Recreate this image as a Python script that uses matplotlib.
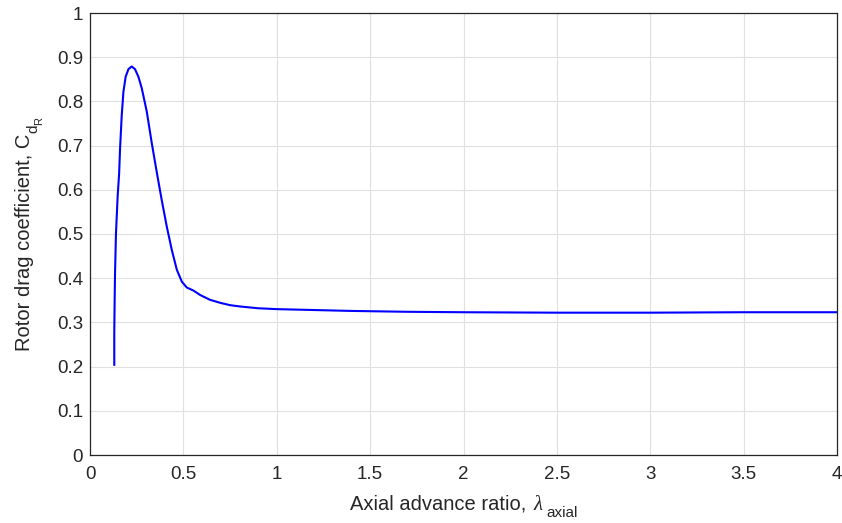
import matplotlib
matplotlib.use('Agg')
from matplotlib import pyplot as plt
from matplotlib.transforms import IdentityTransform

# curve
adv_ratio = [0.130, 0.130, 0.132, 0.134, 0.139, 0.148, 0.156, 0.161, 0.170, 0.179,
             0.191, 0.206, 0.223, 0.241, 0.259, 0.277, 0.304, 0.331, 0.357, 0.384,
             0.411, 0.438, 0.465, 0.492, 0.518, 0.554, 0.59, 0.643, 0.70, 0.75,
             0.804, 0.9, 1.0, 1.2, 1.394, 1.7, 2.0, 2.5, 3.0, 3.5, 4.0]
drag_coef = [0.204, 0.276, 0.35, 0.41, 0.50, 0.585, 0.637, 0.694, 0.769, 0.822,
             0.856, 0.873, 0.879, 0.873, 0.856, 0.830, 0.777, 0.705, 0.641, 0.577,
             0.517, 0.464, 0.419, 0.392, 0.379, 0.372, 0.362, 0.351, 0.344, 0.339,
             0.336, 0.332, 0.330, 0.328, 0.326, 0.324, 0.323, 0.322, 0.322, 0.323, 0.323]

x_ticks = [0, 0.5, 1, 1.5, 2, 2.5, 3, 3.5, 4]
y_ticks = [0, 0.1, 0.2, 0.3, 0.4, 0.5, 0.6, 0.7, 0.8, 0.9, 1]

TXT = '#262626'
plt.rcParams['font.family'] = ['Liberation Sans', 'DejaVu Sans']

W, H = 842, 523
fig = plt.figure(figsize=(W / 100, H / 100), dpi=100)
ax = fig.add_axes([90 / W, 1 - 455 / H, 747 / W, 442 / H])

ax.plot(adv_ratio, drag_coef, color=(0, 0, 1), lw=1.5)

ax.set_xlim(0, 4)
ax.set_ylim(0, 1)
ax.set_xticks(x_ticks)
ax.set_yticks(y_ticks)
ax.set_xticklabels([f'{t:g}' for t in x_ticks])
ax.set_yticklabels([f'{t:g}' for t in y_ticks])
ax.tick_params(length=0, labelsize=13.5, colors=TXT)
ax.tick_params(axis='x', pad=8)
ax.tick_params(axis='y', pad=5)
ax.grid(True, color='#e0e0e0', lw=0.8)
ax.set_axisbelow(True)
for s in ax.spines.values():
    s.set_color(TXT)
    s.set_linewidth(0.9)


def label_pieces(pieces, center, base, vertical=False):
    """pieces: (text, size, family, style, baseline shift px, gap px before)
    laid out one after another in pixel coords, whole thing centred on center"""
    r = fig.canvas.get_renderer()
    objs = []
    for txt, size, fam, style, shift, gap in pieces:
        t = fig.text(0, 0, txt, fontsize=size, family=fam, style=style, color=TXT,
                     transform=IdentityTransform(), ha='left', va='baseline',
                     rotation=90 if vertical else 0, rotation_mode='anchor')
        bb = t.get_window_extent(r)
        objs.append((t, (bb.height if vertical else bb.width), shift, gap))
    total = sum(l + g for _, l, _, g in objs)
    pos = center - total / 2
    for t, l, shift, gap in objs:
        pos += gap
        if vertical:
            t.set_position((base + shift, pos))
        else:
            t.set_position((pos, base - shift))
        pos += l


SANS = ['Liberation Sans', 'DejaVu Sans']
SERIF = ['Liberation Serif', 'DejaVu Serif']

# x label: Axial advance ratio, lambda_axial
label_pieces([('Axial advance ratio,', 14.5, SANS, 'normal', 0, 0),
              ('λ', 15, SERIF, 'italic', 0, 8),
              ('axial', 11, SANS, 'normal', 7, 3)],
             center=463.5, base=H - 510)

# y label: Rotor drag coefficient, C_{d_R}
label_pieces([('Rotor drag coefficient, C', 14.5, SANS, 'normal', 0, 0),
              ('d', 11, SANS, 'normal', 7, 1),
              ('R', 8, SANS, 'normal', 12, 0)],
             center=H - 234, base=30, vertical=True)

fig.savefig('out.png', dpi=100)
